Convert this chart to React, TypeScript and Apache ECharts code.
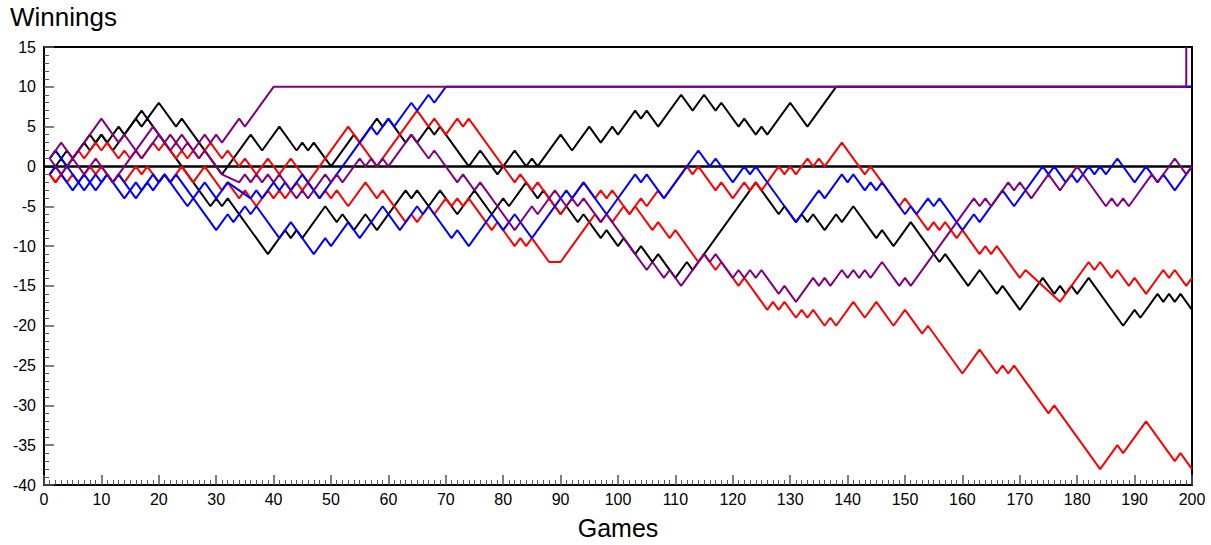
import React, { useEffect, useRef } from "react";
import * as echarts from "echarts";

// Turning points [game, winnings] of each random walk (each step is +/-1)
const blackA: number[][] = [
  [1, -1], [2, 0], [3, 1], [4, 0], [6, 2], [8, 4], [9, 3], [10, 4], [11, 3], [13, 5], [14, 4], [17, 7], [18, 6], [20, 8],
  [23, 5], [24, 6], [31, -1], [36, 4], [38, 2], [41, 5], [44, 2], [45, 3], [46, 2], [47, 3], [50, 0], [53, 3], [54, 4],
  [55, 3], [58, 6], [59, 5], [60, 6], [63, 3], [64, 4], [65, 3], [67, 5], [68, 4], [69, 5], [74, 0], [76, 2], [78, 0],
  [79, -1], [82, 2], [84, 0], [85, 1], [86, 0], [90, 4], [92, 2], [95, 5], [97, 3], [99, 5], [100, 4], [103, 7], [104, 6],
  [105, 7], [107, 5], [111, 9], [113, 7], [115, 9], [117, 7], [118, 8], [121, 5], [122, 6], [124, 4], [125, 5], [126, 4],
  [130, 8], [133, 5], [138, 10], [200, 10],
];
const blackB: number[][] = [
  [1, 1], [2, 2], [3, 1], [4, 2], [5, 1], [6, 2], [7, 3], [8, 2], [9, 3], [10, 4], [12, 2], [16, 6], [17, 5], [18, 6],
  [24, 0], [29, -5], [30, -4], [31, -5], [32, -4], [39, -11], [42, -8], [43, -9], [44, -8], [45, -9], [49, -5], [51, -7],
  [52, -6], [54, -8], [56, -6], [58, -8], [63, -3], [64, -4], [65, -3], [67, -5], [69, -3], [72, -6], [75, -3], [78, -6],
  [80, -4], [81, -5], [84, -2], [86, -4], [87, -3], [90, -6], [91, -5], [93, -7], [94, -6], [97, -9], [98, -8], [99, -9],
  [100, -10], [101, -9], [103, -11], [104, -10], [106, -12], [107, -11], [110, -14], [112, -12], [113, -13], [124, -2],
  [128, -6], [129, -5], [131, -7], [132, -6], [133, -7], [134, -6], [136, -8], [138, -6], [139, -7], [141, -5], [145, -9],
  [146, -8], [148, -10], [151, -7], [156, -12], [157, -11], [161, -15], [163, -13], [166, -16], [167, -15], [170, -18],
  [174, -14], [176, -16], [177, -15], [178, -16], [179, -15], [180, -16], [182, -14], [188, -20], [190, -18], [191, -19],
  [194, -16], [195, -17], [196, -16], [197, -17], [198, -16], [200, -18],
];
const redA: number[][] = [
  [1, -1], [2, -2], [3, -1], [4, -2], [5, -1], [6, -2], [7, -1], [8, 0], [9, -1], [10, 0], [12, -2], [13, -1], [14, -2],
  [16, 0], [17, -1], [18, 0], [20, -2], [21, -1], [22, -2], [24, 0], [26, -2], [28, 0], [30, -2], [31, -3], [32, -2],
  [34, -4], [35, -3], [37, -5], [39, -3], [40, -4], [41, -3], [42, -4], [44, -2], [45, -3], [46, -2], [53, 5], [58, 0],
  [65, 7], [67, 5], [68, 6], [70, 4], [72, 6], [73, 5], [74, 6], [82, -2], [83, -1], [85, -3], [86, -2], [90, -6],
  [94, -2], [96, -4], [97, -3], [98, -4], [99, -3], [101, -5], [102, -6], [103, -5], [106, -8], [107, -7], [109, -9],
  [110, -8], [114, -12], [115, -11], [117, -13], [118, -12], [121, -15], [122, -14], [126, -18], [127, -17], [128, -18],
  [129, -17], [131, -19], [132, -18], [133, -19], [134, -18], [136, -20], [137, -19], [138, -20], [141, -17], [143, -19],
  [145, -17], [148, -20], [150, -18], [153, -21], [154, -20], [160, -26], [163, -23], [166, -26], [167, -25], [168, -26],
  [169, -25], [175, -31], [176, -30], [184, -38], [187, -35], [188, -36], [192, -32], [197, -37], [198, -36], [200, -38],
];
const redB: number[][] = [
  [1, -1], [2, -2], [5, 1], [6, 2], [7, 1], [9, 3], [10, 2], [11, 3], [13, 1], [14, 2], [15, 1], [16, 2], [17, 1],
  [19, 3], [20, 2], [21, 3], [23, 1], [24, 2], [25, 1], [26, 2], [27, 1], [29, 3], [31, 1], [32, 2], [34, 0], [35, 1],
  [36, 0], [37, -1], [38, 0], [39, 1], [40, 0], [41, -1], [43, 1], [48, -4], [49, -3], [50, -4], [51, -3], [53, -5],
  [56, -2], [58, -4], [59, -3], [63, -7], [64, -6], [65, -7], [67, -5], [68, -6], [70, -4], [71, -5], [72, -4], [73, -5],
  [74, -4], [78, -8], [79, -7], [80, -8], [82, -10], [83, -9], [84, -10], [85, -9], [86, -10], [88, -12], [90, -12],
  [94, -8], [95, -7], [96, -6], [97, -7], [98, -6], [99, -7], [100, -6], [101, -5], [102, -6], [103, -5], [104, -4],
  [105, -5], [107, -3], [108, -4], [112, 0], [113, -1], [114, 0], [117, -3], [118, -2], [120, -4], [122, -2], [123, -3],
  [124, -2], [125, -3], [128, 0], [129, -1], [130, 0], [131, -1], [133, 1], [134, 0], [135, 1], [136, 0], [139, 3],
  [143, -1], [144, 0], [149, -5], [150, -4], [154, -8], [155, -7], [156, -8], [157, -7], [159, -9], [160, -8], [163, -11],
  [164, -10], [165, -11], [166, -10], [170, -14], [171, -13], [177, -17], [182, -12], [183, -13], [184, -12], [186, -14],
  [187, -13], [189, -15], [190, -14], [192, -16], [195, -13], [196, -14], [197, -13], [199, -15], [200, -14],
];
const blueA: number[][] = [
  [1, 1], [2, 2], [7, -3], [9, -1], [10, -2], [11, -1], [14, -4], [16, -2], [17, -3], [19, -1], [20, -2], [21, -1],
  [23, -3], [25, -5], [27, -3], [28, -2], [30, -4], [32, -2], [36, -4], [37, -3], [38, -4], [40, -2], [41, -3], [42, -2],
  [43, -3], [45, -1], [48, -4], [51, -1], [57, 5], [58, 4], [60, 6], [61, 5], [64, 8], [65, 7], [67, 9], [68, 8],
  [70, 10], [200, 10],
];
const blueB: number[][] = [
  [1, -1], [2, 0], [5, -3], [7, -1], [9, -3], [11, -1], [12, -2], [13, -1], [16, -4], [18, -2], [19, -3], [21, -1],
  [22, -2], [23, -1], [29, -7], [30, -8], [32, -6], [33, -7], [35, -5], [36, -6], [37, -5], [41, -9], [42, -8], [43, -7],
  [47, -11], [49, -9], [50, -10], [53, -7], [55, -9], [59, -5], [62, -8], [65, -5], [66, -6], [67, -5], [71, -9],
  [72, -8], [74, -10], [78, -6], [80, -8], [82, -6], [85, -9], [90, -4], [91, -3], [92, -4], [94, -2], [98, -6],
  [103, -1], [104, -2], [105, -1], [108, -4], [114, 2], [116, 0], [117, 1], [120, -2], [122, 0], [123, -1], [124, 0],
  [129, -5], [131, -7], [135, -3], [136, -4], [139, -1], [140, -2], [141, -1], [143, -3], [144, -2], [145, -3],
  [146, -2], [150, -6], [151, -5], [152, -6], [154, -4], [155, -5], [156, -4], [160, -8], [162, -6], [163, -7],
  [167, -3], [169, -5], [174, 0], [175, -1], [176, 0], [178, -2], [179, -1], [180, -2], [182, 0], [183, -1], [184, 0],
  [185, -1], [187, 1], [190, -2], [192, 0], [194, -2], [195, -1], [197, -3], [200, 0],
];
const purpleA: number[][] = [
  [1, 1], [3, 3], [5, 1], [10, 6], [13, 3], [14, 4], [17, 1], [20, 4], [21, 3], [22, 4], [23, 3], [24, 4], [26, 2],
  [28, 4], [29, 3], [30, 4], [31, 3], [34, 6], [35, 5], [40, 10], [199, 10], [199, 15],
];
const purpleB: number[][] = [
  [1, 1], [3, -1], [5, 1], [7, -1], [9, 1], [12, -2], [14, 0], [19, 5], [22, 2], [23, 3], [24, 2], [25, 3], [27, 1],
  [28, 2], [31, -1], [34, -2], [35, -1], [36, -2], [37, -1], [38, -2], [39, -1], [40, -2], [41, -1], [44, -4], [45, -3],
  [46, -4], [49, -1], [50, -2], [51, -1], [52, -2], [55, 1], [56, 0], [57, 1], [58, 0], [59, 1], [60, 0], [64, 4],
  [67, 1], [68, 2], [72, -2], [73, -1], [75, -3], [76, -2], [77, -3], [79, -5], [82, -8], [85, -5], [86, -6], [89, -3],
  [91, -5], [92, -4], [93, -5], [94, -4], [97, -7], [98, -6], [99, -7], [103, -11], [105, -13], [106, -12], [107, -13],
  [108, -14], [109, -13], [111, -15], [115, -11], [116, -12], [117, -11], [120, -14], [121, -13], [122, -14], [123, -13],
  [124, -14], [125, -13], [128, -16], [129, -15], [131, -17], [134, -14], [135, -15], [136, -14], [137, -15], [139, -13],
  [140, -14], [141, -13], [142, -14], [143, -13], [144, -14], [146, -12], [149, -15], [150, -14], [151, -15], [156, -10],
  [162, -4], [163, -5], [164, -4], [165, -5], [168, -2], [169, -3], [170, -2], [172, -4], [175, -1], [177, -3], [180, 0],
  [185, -5], [186, -4], [187, -5], [188, -4], [189, -5], [193, -1], [194, -2], [197, 1], [199, -1], [200, 0],
];

const walks = [
  { name: "Black 1", color: "#000000", data: blackA },
  { name: "Black 2", color: "#000000", data: blackB },
  { name: "Red 1", color: "#ff0000", data: redA },
  { name: "Red 2", color: "#ff0000", data: redB },
  { name: "Blue 1", color: "#0000ff", data: blueA },
  { name: "Blue 2", color: "#0000ff", data: blueB },
  { name: "Purple 2", color: "#800080", data: purpleB },
  { name: "Purple 1", color: "#800080", data: purpleA },
];

const FONT = "Liberation Sans, Arial, Helvetica, sans-serif";

export default function App() {
  const ref = useRef<HTMLDivElement>(null);
  useEffect(() => {
    document.body.style.margin = "0";
    if (!ref.current) return;
    const chart = echarts.init(ref.current, undefined, { renderer: "svg" });
    const series: any[] = walks.map((w) => ({
      name: w.name,
      type: "line",
      data: w.data,
      showSymbol: false,
      symbol: "none",
      clip: true,
      lineStyle: { color: w.color, width: 2 },
      itemStyle: { color: w.color },
      z: 3,
    }));
    series.unshift({
      name: "zero",
      type: "line",
      data: [[0, 0], [200, 0]],
      showSymbol: false,
      symbol: "none",
      lineStyle: { color: "#000", width: 2.5 },
      z: 2,
      silent: true,
    });
    chart.setOption({
      animation: false,
      backgroundColor: "#fff",
      grid: { left: 44, right: 19, top: 47, bottom: 55, show: true, borderColor: "#000", borderWidth: 2, backgroundColor: "transparent" },
      graphic: [
        { type: "text", left: 10, top: 4, style: { text: "Winnings", font: `26px ${FONT}`, fill: "#000" } },
      ],
      xAxis: {
        type: "value",
        min: 0,
        max: 200,
        interval: 10,
        name: "Games",
        nameLocation: "middle",
        nameGap: 30,
        nameTextStyle: { fontFamily: FONT, fontSize: 25, color: "#000" },
        axisLine: { show: true, onZero: false, lineStyle: { color: "#000", width: 2 } },
        axisTick: { show: true, inside: true, length: 10, lineStyle: { color: "#555", width: 1.5 } },
        minorTick: { show: true, splitNumber: 10, length: 5, lineStyle: { color: "#555", width: 1 } },
        axisLabel: { fontFamily: FONT, fontSize: 16, color: "#000", margin: 6 },
        splitLine: { show: false },
      },
      yAxis: {
        type: "value",
        min: -40,
        max: 15,
        interval: 5,
        axisLine: { show: true, onZero: false, lineStyle: { color: "#000", width: 2 } },
        axisTick: { show: true, inside: true, length: 10, lineStyle: { color: "#555", width: 1.5 } },
        minorTick: { show: true, splitNumber: 5, length: 5, lineStyle: { color: "#555", width: 1 } },
        axisLabel: { fontFamily: FONT, fontSize: 16, color: "#000", margin: 8 },
        splitLine: { show: false },
      },
      series,
    });
    return () => chart.dispose();
  }, []);
  return <div ref={ref} style={{ width: 1211, height: 545 }} />;
}
